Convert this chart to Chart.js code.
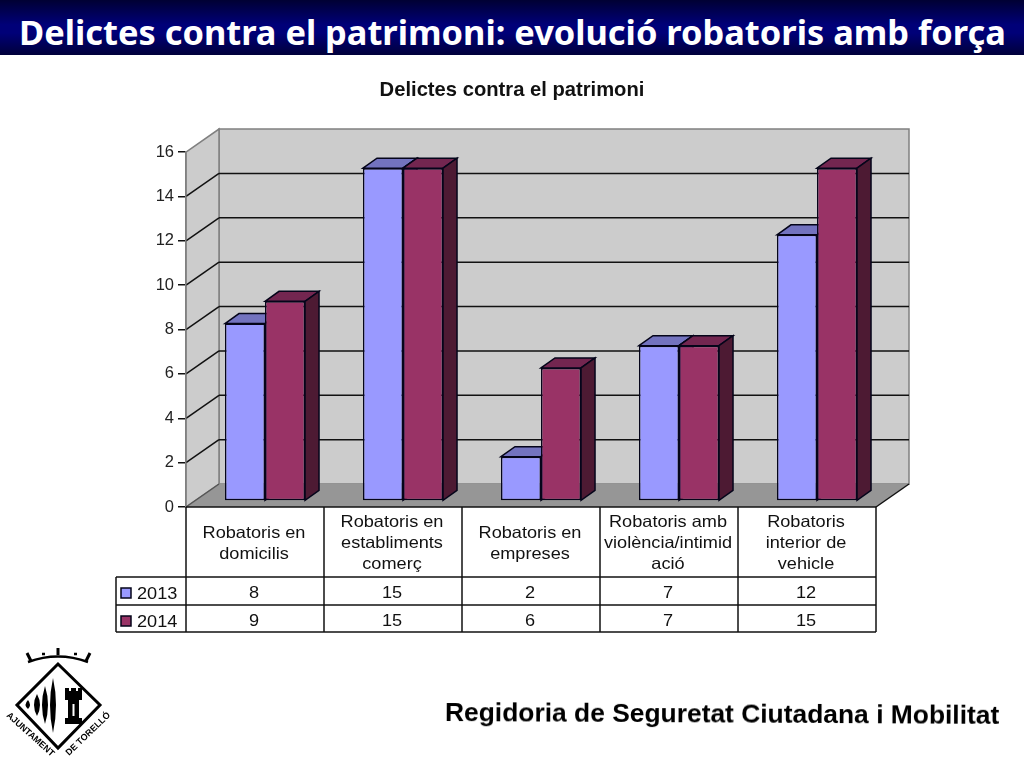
<!DOCTYPE html>
<html lang="ca">
<head>
<meta charset="utf-8">
<title>Delictes contra el patrimoni</title>
<script src="https://cdn.jsdelivr.net/npm/chart.js@4"></script>
<style>
  html, body { margin: 0; padding: 0; background: #fff; }
  #pagina { position: relative; width: 1024px; height: 768px; overflow: hidden; }
  #capcalera {
    position: absolute; left: 0; top: 0; width: 1024px; height: 55px;
    background: linear-gradient(#000033 0%, #000078 45%, #000078 60%, #00003a 100%);
    color: #fff; font: bold 34.4px "Noto Sans", sans-serif; line-height: 63px;
    white-space: nowrap; padding-left: 19px; box-sizing: border-box;
  }
  #peu {
    position: absolute; left: 445px; top: 697px; color: #000;
    font: bold 26.4px "Liberation Sans", sans-serif; white-space: nowrap;
    transform: rotate(0.3deg); transform-origin: left center;
  }
  #grafic { position: absolute; left: 0; top: 0; }
  #logo { position: absolute; left: 0; top: 640px; }
</style>
</head>
<body>
<div id="pagina">
  <div id="capcalera">Delictes contra el patrimoni: evolució robatoris amb força</div>
  <canvas id="grafic" width="1024" height="768"></canvas>
  <svg id="logo" width="130" height="128" viewBox="0 0 130 128">
    <polygon points="58,24 17,65 58,108 100,65" fill="#fff" stroke="#000" stroke-width="3"/>
    <path d="M28 22 Q58 11 88 22" fill="none" stroke="#000" stroke-width="2.5"/>
    <path d="M27 13 L31 21 M58 8 L58 15 M90 13 L86 21" stroke="#000" stroke-width="3"/>
    <path d="M42 14 h3 M74 14 h3" stroke="#000" stroke-width="2.5"/>
    <path d="M28 60 Q23 65 28 69 Q32 65 28 60 Z M37 54 Q31 65 37 76 Q43 65 37 54 Z M45 46 Q39 65 45 84 Q51 65 45 46 Z M53 38 Q47 65 53 93 Q59 65 53 38 Z" fill="#000"/>
    <path d="M65 48 h4 v3 h2 v-3 h5 v3 h2 v-3 h4 v12 h-3 v18 h3 v6 h-17 v-6 h3 v-18 h-3 z" fill="#000"/>
    <rect x="72.5" y="64" width="2" height="12" fill="#fff"/>
    <text transform="translate(6,76) rotate(42)" font-family="Liberation Sans" font-weight="bold" font-size="9" textLength="61">AJUNTAMENT</text>
    <text transform="translate(69,116) rotate(-44)" font-family="Liberation Sans" font-weight="bold" font-size="9" textLength="58">DE TORELLÓ</text>
  </svg>
  <div id="peu">Regidoria de Seguretat Ciutadana i Mobilitat</div>
</div>

<script>
const categories = [
  ['Robatoris en', 'domicilis'],
  ['Robatoris en', 'establiments', 'comerç'],
  ['Robatoris en', 'empreses'],
  ['Robatoris amb', 'violència/intimid', 'ació'],
  ['Robatoris', 'interior de', 'vehicle']
];
const series2013 = [8, 15, 2, 7, 12];
const series2014 = [9, 15, 6, 7, 15];
const nomsSeries = ['2013', '2014'];

const colorsFront = ['#9999ff', '#993366'];
const colorsTop = ['#7373bf', '#732650'];
const colorsSide = ['#4d4d80', '#4d1a33'];
const colorVora = '#05051a';

// desplaçament de la paret del fons i de les barres respecte al pla frontal
const fons = { x: 33, y: -23 };
const barra = { x: 10, y: -6 };
const gruix = { x: 14, y: -10 };

function poligon(ctx, punts, fill, stroke, amplada) {
  ctx.beginPath();
  punts.forEach((p, i) => i ? ctx.lineTo(p[0], p[1]) : ctx.moveTo(p[0], p[1]));
  ctx.closePath();
  if (fill) { ctx.fillStyle = fill; ctx.fill(); }
  if (stroke) { ctx.strokeStyle = stroke; ctx.lineWidth = amplada || 1; ctx.stroke(); }
}

function linia(ctx, x1, y1, x2, y2, color, amplada) {
  ctx.beginPath();
  ctx.moveTo(x1, y1);
  ctx.lineTo(x2, y2);
  ctx.strokeStyle = color;
  ctx.lineWidth = amplada;
  ctx.stroke();
}

// el text de l'original està una mica eixamplat
function textAmple(ctx, text, x, y) {
  ctx.save();
  ctx.translate(x, y);
  ctx.scale(1.1, 1);
  ctx.fillText(text, 0, 0);
  ctx.restore();
}

// parets, terra i línies de la graella en 3D
const parets3d = {
  id: 'parets3d',
  beforeDraw(chart) {
    const { ctx, chartArea: a, scales } = chart;
    const y = scales.y;
    const gris = '#808080';
    ctx.save();
    poligon(ctx, [[a.left + fons.x, a.top + fons.y], [a.right + fons.x, a.top + fons.y],
      [a.right + fons.x, a.bottom + fons.y], [a.left + fons.x, a.bottom + fons.y]], '#cccccc', gris, 1.5);
    poligon(ctx, [[a.left, a.top], [a.left + fons.x, a.top + fons.y],
      [a.left + fons.x, a.bottom + fons.y], [a.left, a.bottom]], '#cccccc', gris, 1.5);
    poligon(ctx, [[a.left, a.bottom], [a.left + fons.x, a.bottom + fons.y],
      [a.right + fons.x, a.bottom + fons.y], [a.right, a.bottom]], '#969696');
    linia(ctx, a.right, a.bottom, a.right + fons.x, a.bottom + fons.y, '#111', 1.5);
    linia(ctx, a.left, a.bottom, a.left + fons.x, a.bottom + fons.y, '#555', 1.5);
    y.ticks.forEach(t => {
      if (t.value === 0 || t.value === 16) return;
      const py = y.getPixelForValue(t.value);
      linia(ctx, a.left, py, a.left + fons.x, py + fons.y, '#111', 1.5);
      linia(ctx, a.left + fons.x, py + fons.y, a.right + fons.x, py + fons.y, '#111', 1.5);
    });
    ctx.restore();
  }
};

// cares superior i lateral de cada barra; 2013 primer perquè 2014 quedi al davant
const barres3d = {
  id: 'barres3d',
  beforeDatasetDraw() { return false; },
  afterDatasetsDraw(chart) {
    const ctx = chart.ctx;
    ctx.save();
    ctx.translate(barra.x, barra.y);
    categories.forEach((c, i) => {
      [0, 1].forEach(d => {
        const b = chart.getDatasetMeta(d).data[i];
        const e = b.getProps(['x', 'y', 'base', 'width'], true);
        const x1 = e.x - e.width / 2, x2 = e.x + e.width / 2;
        poligon(ctx, [[x1, e.y], [x1 + gruix.x, e.y + gruix.y], [x2 + gruix.x, e.y + gruix.y], [x2, e.y]],
          colorsTop[d], colorVora, 1.5);
        poligon(ctx, [[x2, e.y], [x2 + gruix.x, e.y + gruix.y], [x2 + gruix.x, e.base + gruix.y], [x2, e.base]],
          colorsSide[d], colorVora, 1.5);
        b.draw(ctx);
      });
    });
    ctx.restore();
  }
};

// taula de dades sota el gràfic
const taula = {
  id: 'taula',
  afterDraw(chart) {
    const { ctx, chartArea: a, scales } = chart;
    const fila1 = a.bottom + 70, fila2 = fila1 + 28, fila3 = fila2 + 27;
    const esquerra = 116;
    const ample = (a.right - a.left) / categories.length;
    ctx.save();
    linia(ctx, a.left, a.bottom, a.right, a.bottom, '#111', 1.5);
    [fila1, fila2, fila3].forEach(f => linia(ctx, esquerra, f, a.right, f, '#111', 1.5));
    linia(ctx, esquerra, fila1, esquerra, fila3, '#111', 1.5);
    linia(ctx, a.left, a.bottom, a.left, fila3, '#111', 1.5);
    categories.forEach((c, i) => {
      const vora = scales.x.getPixelForTick(i) + ample / 2;
      linia(ctx, vora, a.bottom, vora, fila3, '#111', 1.5);
    });
    ctx.fillStyle = '#111';
    ctx.font = '16.5px "Liberation Sans", sans-serif';
    ctx.textAlign = 'center';
    ctx.textBaseline = 'middle';
    categories.forEach((linies, i) => {
      const cx = scales.x.getPixelForTick(i) - 1;
      const inici = a.bottom + 36.5 - (linies.length - 1) * 10.5;
      linies.forEach((t, j) => textAmple(ctx, t, cx, inici + j * 21));
      textAmple(ctx, String(series2013[i]), cx, fila1 + 16);
      textAmple(ctx, String(series2014[i]), cx, fila2 + 16);
    });
    nomsSeries.forEach((nom, d) => {
      const f = d === 0 ? fila1 : fila2;
      poligon(ctx, [[121, f + 11], [131, f + 11], [131, f + 21], [121, f + 21]], colorsFront[d], colorVora, 1.5);
      ctx.fillStyle = '#111';
      ctx.textAlign = 'left';
      textAmple(ctx, nom, 137, f + 17);
    });
    ctx.restore();
  }
};

new Chart(document.getElementById('grafic'), {
  type: 'bar',
  data: {
    labels: categories,
    datasets: [
      { label: nomsSeries[0], data: series2013, backgroundColor: colorsFront[0] },
      { label: nomsSeries[1], data: series2014, backgroundColor: colorsFront[1] }
    ]
  },
  plugins: [parets3d, barres3d, taula],
  options: {
    responsive: false,
    animation: false,
    events: [],
    layout: { padding: { left: 148, right: 148, top: 78, bottom: 261 } },
    datasets: {
      bar: {
        categoryPercentage: 0.58,
        barPercentage: 1,
        borderWidth: 1.5,
        borderColor: colorVora,
        borderSkipped: false
      }
    },
    plugins: {
      legend: { display: false },
      tooltip: { enabled: false },
      title: {
        display: true,
        text: 'Delictes contra el patrimoni',
        color: '#111',
        font: { family: '"Liberation Sans", sans-serif', size: 20.2, weight: 'bold' },
        padding: { top: 0, bottom: 49.8 }
      }
    },
    scales: {
      x: {
        grid: { display: false },
        border: { display: false },
        ticks: { display: false },
        afterFit(scale) { scale.height = 0; }
      },
      y: {
        min: 0,
        max: 16,
        ticks: {
          stepSize: 2,
          padding: 4,
          color: '#222',
          font: { family: '"Liberation Sans", sans-serif', size: 16.5 }
        },
        grid: { drawOnChartArea: false, tickLength: 8, color: '#111', lineWidth: 1.5 },
        border: { color: '#808080', width: 1.5 },
        afterFit(scale) { scale.width = 38; }
      }
    }
  }
});
</script>
</body>
</html>
